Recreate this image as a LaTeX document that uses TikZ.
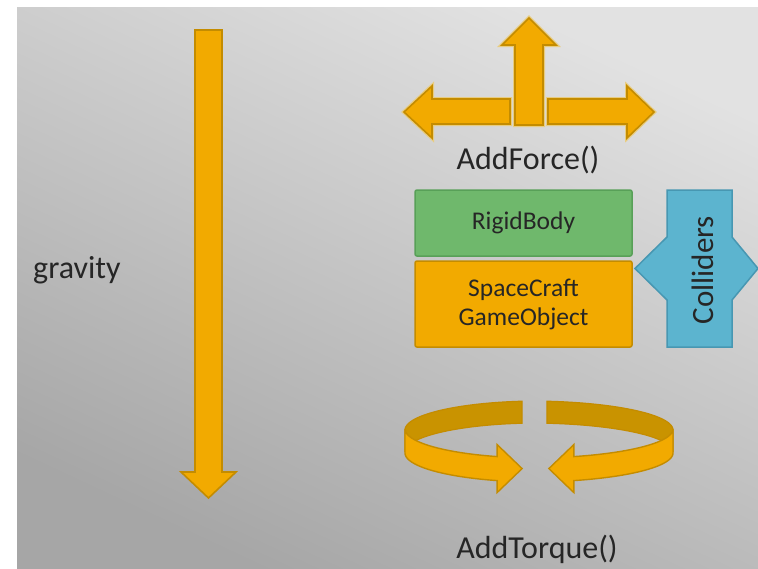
\documentclass[tikz,border=0pt]{standalone}
\usepackage{fontspec}
\setmainfont{Carlito}
\definecolor{bgtop}{HTML}{E2E2E2}
\definecolor{bgbot}{HTML}{A6A6A6}
\definecolor{orf}{HTML}{F2AA00}
\definecolor{ord}{HTML}{C48C00}
\definecolor{orp}{HTML}{E8CC80}
\definecolor{orback}{HTML}{C99300}
\definecolor{grf}{HTML}{6FB86C}
\definecolor{grd}{HTML}{58A058}
\definecolor{blf}{HTML}{5CB4CF}
\definecolor{bld}{HTML}{4797B2}
\definecolor{txt}{HTML}{262626}
\tikzset{
  arrowshape/.style={fill=orf, draw=ord, line width=1.6pt, line join=miter},
  glow/.style={draw=orp, line width=4pt, line join=miter},
  lbl/.style={text=txt, font=\fontsize{32}{36}\selectfont, inner sep=0pt},
  boxlbl/.style={text=txt, font=\fontsize{25.5}{29}\selectfont, align=center},
}
\newcommand\torquehalf[3]{%
  % #1 = centre x, #2 = x radius, #3 = side sign
  \fill[orback, draw=ord, line width=1.2pt]
    plot[domain=97:180, samples=40] ({#1+#3*#2*cos(\x)},{430-29*sin(\x)})
    -- plot[domain=180:97, samples=40] ({#1+#3*#2*cos(\x)},{452-29*sin(\x)}) -- cycle;
  \fill[orf, draw=ord, line width=1.4pt, line join=miter]
    plot[domain=180:252, samples=40] ({#1+#3*#2*cos(\x)},{429-29*sin(\x)})
    -- ({#1+#3*#2*cos(252)},{441-29*sin(252)-24})
    -- ({#1+#3*#2*cos(252)+#3*25},{441-29*sin(252)})
    -- ({#1+#3*#2*cos(252)},{441-29*sin(252)+24})
    -- plot[domain=252:180, samples=40] ({#1+#3*#2*cos(\x)},{453-29*sin(\x)}) -- cycle;
}
\begin{document}
\begin{tikzpicture}[x=1pt,y=-1pt]
\useasboundingbox (0,0) rectangle (758,568);
\fill[white] (0,0) rectangle (758,568);
\shade[top color=bgtop, bottom color=bgbot, shading angle=-25] (17,7) rectangle (758,568);

% gravity arrow
\path[arrowshape] (195,30) -- (222,30) -- (222,472) -- (236,472) -- (208.5,498) -- (181,472) -- (195,472) -- cycle;
\node[lbl, anchor=base west] (gravity) at (33,278) {gravity};

% AddForce arrows
\path[glow] (515,125) -- (515,45) -- (502,45) -- (529,18) -- (556,45) -- (543,45) -- (543,125) -- cycle;
\path[arrowshape] (515,125) -- (515,45) -- (502,45) -- (529,18) -- (556,45) -- (543,45) -- (543,125) -- cycle;
\path[glow] (510,99) -- (432,99) -- (432,86) -- (404,112) -- (432,138) -- (432,124) -- (510,124) -- cycle;
\path[arrowshape] (510,99) -- (432,99) -- (432,86) -- (404,112) -- (432,138) -- (432,124) -- (510,124) -- cycle;
\path[glow] (548,99) -- (627,99) -- (627,86) -- (654,112) -- (627,138) -- (627,124) -- (548,124) -- cycle;
\path[arrowshape] (548,99) -- (627,99) -- (627,86) -- (654,112) -- (627,138) -- (627,124) -- (548,124) -- cycle;
\node[lbl, anchor=base] (addforce) at (528,169) {AddForce()};

% boxes
\node[boxlbl, fill=grf, draw=grd, line width=1.5pt, rounded corners=2pt,
      minimum width=217pt, minimum height=66pt, inner sep=0pt] (rigid) at (523.5,223) {RigidBody};
\node[boxlbl, fill=orf, draw=ord, line width=1.5pt, rounded corners=2pt,
      minimum width=217pt, minimum height=86pt, inner sep=0pt] (space) at (523.5,304) {SpaceCraft\\GameObject};

% colliders
\path[fill=blf, draw=bld, line width=1.5pt, line join=miter]
  (667,190) -- (732,190) -- (732,237) -- (758,268.5) -- (732,300) -- (732,347)
  -- (667,347) -- (667,300) -- (635,268.5) -- (667,237) -- cycle;
\node[lbl, rotate=90, font=\fontsize{31}{34}\selectfont] (colliders) at (703,270) {Colliders};

% torque
\torquehalf{538.3}{133.3}{1}
\torquehalf{529.5}{143.5}{-1}
\node[lbl, anchor=base] (addtorque) at (537,558) {AddTorque()};
\end{tikzpicture}
\end{document}
